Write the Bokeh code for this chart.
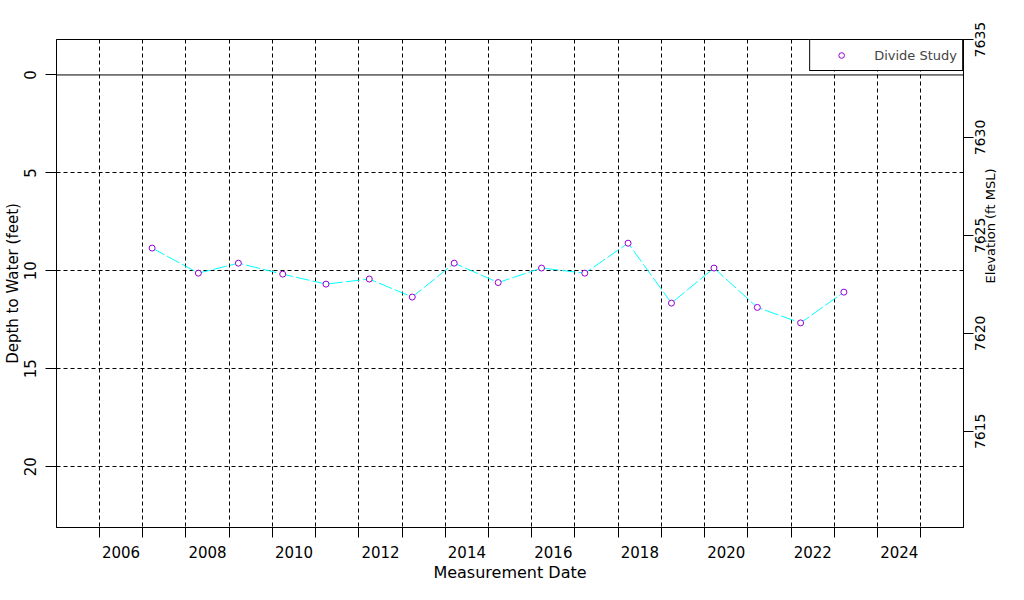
import math
from bokeh.plotting import figure
from bokeh.models import Range1d, LinearAxis, FixedTicker, Span, Legend, LegendItem
from bokeh.embed import file_html
from bokeh.resources import INLINE

# ---- data (decimal years, depth to water in feet) ----
meas_dates = [2006.718, 2007.788, 2008.713, 2009.739, 2010.740, 2011.741, 2012.735,
              2013.706, 2014.723, 2015.726, 2016.727, 2017.728, 2018.731, 2019.715,
              2020.718, 2021.719, 2022.720]
depth_ft = [8.84, 10.12, 9.61, 10.17, 10.68, 10.42, 11.34,
            9.61, 10.60, 9.86, 10.12, 8.59, 11.65, 9.86,
            11.87, 12.66, 11.09]
series_name = "Divide Study"

year_labels = [2006, 2008, 2010, 2012, 2014, 2016, 2018, 2020, 2022, 2024]
year_bounds = [y + 0.5 for y in range(2005, 2025)]
depth_ticks = [0, 5, 10, 15, 20]
elev_ticks = [7615, 7620, 7625, 7630, 7635]
land_surface_elev = 7633.197  # elevation at depth 0
elev_title = "Elevation (ft MSL)"

# ---- ranges ----
x_lo, x_hi = 2004.506, 2025.487
d_top, d_bot = -1.81, 23.107
e_lo, e_hi = land_surface_elev - d_bot, land_surface_elev - d_top

FONT = "DejaVu Sans"
FRAME_H = 489  # px (plot area height)
RLABEL_PX = 14
RTITLE_PX = 13
ppu = FRAME_H / (e_hi - e_lo)  # px per elevation unit
# Bokeh starts rotated right-axis labels at the tick; shift the label scale by half
# a label length so each label is centred on its tick (as in the reference).
shift = (4 * 0.636 * RLABEL_PX / 2) / ppu
title_half = (8.86 * RTITLE_PX / 2) / ppu

p = figure(width=1008, height=584, output_backend="svg", toolbar_location=None,
           x_range=Range1d(x_lo, x_hi), y_range=Range1d(d_bot, d_top),
           min_border_left=56, min_border_right=44, min_border_top=39, min_border_bottom=56,
           x_axis_label="Measurement Date", y_axis_label="Depth to Water (feet)")
p.background_fill_color = "white"
p.border_fill_color = "white"
p.outline_line_color = "black"
p.outline_line_width = 1
p.outline_line_alpha = 1

p.extra_y_ranges = {"elev_lbl": Range1d(e_lo + shift, e_hi + shift)}

# bottom axis: labels on even years, tick marks at year boundaries
xa = p.xaxis[0]
xa.ticker = FixedTicker(ticks=year_labels, minor_ticks=year_bounds)
xa.major_tick_out = 10
xa.major_tick_in = 0
xa.minor_tick_out = 10
xa.minor_tick_in = 0
xa.minor_tick_line_color = "black"
xa.major_label_standoff = 8
xa.axis_label_standoff = 2

# left axis
ya = p.yaxis[0]
ya.ticker = FixedTicker(ticks=depth_ticks)
ya.major_label_orientation = "vertical"
ya.major_tick_out = 11
ya.major_tick_in = 0
ya.minor_tick_line_color = None
ya.major_label_standoff = 9
ya.axis_label_standoff = 0

# right axis (elevation): labels on shifted scale, tick marks at true elevations
ra = LinearAxis(y_range_name="elev_lbl", axis_label=elev_title,
                ticker=FixedTicker(ticks=elev_ticks,
                                   minor_ticks=[t + shift for t in elev_ticks]))
b_hi = e_hi + shift + 0.05
b_mid = (e_lo + e_hi) / 2 + shift - title_half
ra.bounds = (2 * b_mid - b_hi, b_hi)
ra.major_label_orientation = math.pi / 2
ra.axis_label_orientation = math.pi / 2
ra.major_tick_out = 10
ra.major_tick_in = 0
ra.minor_tick_out = 10
ra.minor_tick_in = 0
ra.minor_tick_line_color = "black"
ra.major_label_standoff = 7
ra.axis_label_standoff = -3

for ax in [xa, ya, ra]:
    ax.axis_line_color = "black"
    ax.major_label_text_font = FONT
    ax.major_label_text_font_size = "15px"
    ax.major_label_text_color = "black"
    ax.axis_label_text_font = FONT
    ax.axis_label_text_font_size = "15px"
    ax.axis_label_text_font_style = "normal"
    ax.axis_label_text_color = "black"
xa.major_tick_line_color = None
ra.major_tick_line_color = None
xa.axis_label_text_font_size = "16px"
ra.major_label_text_font_size = f"{RLABEL_PX}px"
ra.axis_label_text_font_size = f"{RTITLE_PX}px"
p.add_layout(ra, "right")

# grids
p.xgrid.ticker = FixedTicker(ticks=year_bounds)
p.ygrid.ticker = FixedTicker(ticks=depth_ticks[1:])
for g in [p.xgrid[0], p.ygrid[0]]:
    g.grid_line_color = "black"
    g.grid_line_dash = "4 3"
    g.grid_line_width = 1
    g.grid_line_alpha = 1

p.add_layout(Span(location=0, dimension="width", line_color="black", line_width=1))

# data
p.line(meas_dates, depth_ft, line_color="#00FFFF", line_width=1, line_dash="14 3")
r = p.scatter(meas_dates, depth_ft, marker="circle", size=6, line_color="#9400D3",
              fill_color="white", line_width=1)

legend = Legend(items=[LegendItem(label=series_name, renderers=[r])],
                location="top_right", margin=0, padding=5, spacing=0,
                glyph_width=52, glyph_height=14, label_standoff=7, label_height=20,
                label_text_font=FONT, label_text_font_size="13px",
                border_line_color="black", border_line_width=1, border_line_alpha=1,
                background_fill_color="white", background_fill_alpha=1)
p.add_layout(legend)

open("out.html", "w").write(file_html(p, INLINE))
